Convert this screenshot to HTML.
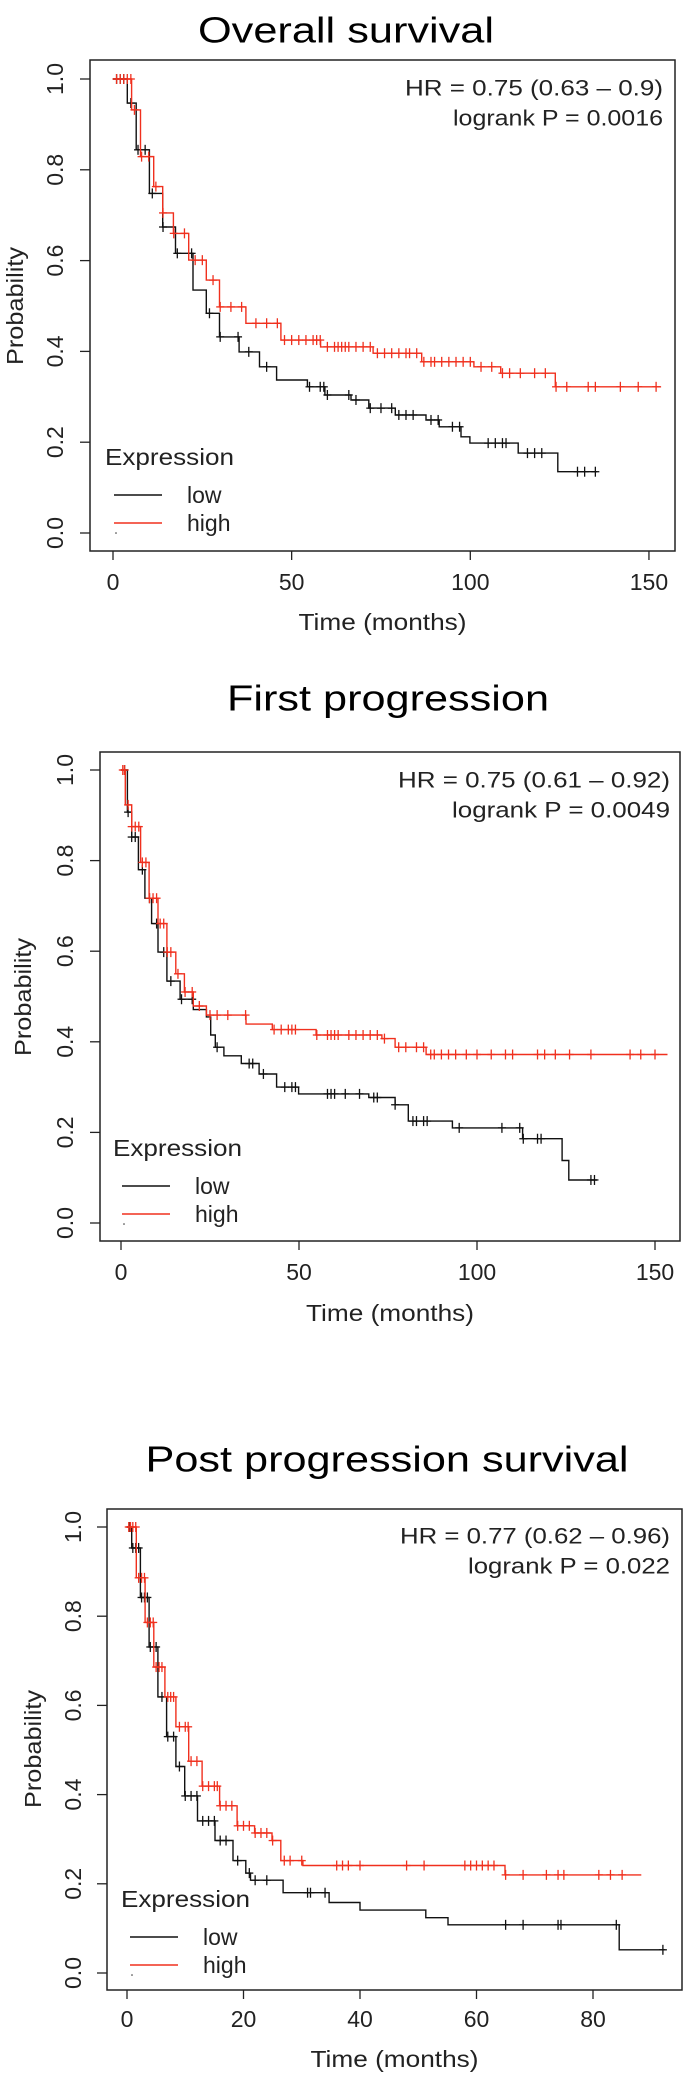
<!DOCTYPE html>
<html><head><meta charset="utf-8"><style>
html,body{margin:0;padding:0;background:#fff;}
svg{display:block;font-family:"Liberation Sans",Arial,sans-serif;}
</style></head><body>
<svg id="chart" width="685" height="2074" viewBox="0 0 685 2074" xmlns="http://www.w3.org/2000/svg"></svg>
<script>
// ---- Panel 1: Overall survival ----
const osLowT  = [0,4,6.5,10.2,13.9,17.5,22.4,26.1,29.8,35.3,41,45.8,54.4,59.3,66.6,71.6,79,87.6,91.3,97.4,99.9,113.4,124.5,135.5];
const osLowS  = [1,0.947,0.844,0.748,0.674,0.616,0.535,0.484,0.432,0.399,0.366,0.337,0.322,0.304,0.293,0.275,0.26,0.249,0.234,0.212,0.198,0.176,0.135,0.135];
const osHighT = [0,5.2,7.7,11.4,13.9,16.9,21.2,26.1,29.8,37.2,47,58.1,72.8,86.4,101,108.5,123.8,153.4];
const osHighS = [1,0.932,0.829,0.763,0.705,0.66,0.601,0.557,0.498,0.462,0.425,0.41,0.396,0.377,0.366,0.352,0.322,0.322];
const osLowCens  = [1,2,3,5,7,9,11,14,18,22,27,30,35,38,43,55,58,59,60,66,68,72,75,78,80,82,84,89,91,95,97,105,107,109,110,116,118,120,130,132,135];
const osHighCens = [1,2,3,4,5,6,8,10,12,14,17,20,23,25,28,30,33,36,40,43,46,48,50,52,54,56,57,58,60,62,63,64,65,66,68,70,72,74,76,78,80,82,83,85,87,89,90,92,94,96,98,100,103,106,109,111,114,118,121,124,127,133,135,142,147,152];
// ---- Panel 2: First progression ----
const fpLowT  = [0,1.8,3,4.9,6.7,8.6,10.4,12.9,16.6,20.3,24,25.2,26.5,28.9,33.8,38.8,43.7,49.9,69.6,77,80.7,93.1,112.8,123.9,125.8,133.7];
const fpLowS  = [1,0.907,0.852,0.78,0.717,0.661,0.598,0.534,0.494,0.471,0.455,0.415,0.388,0.369,0.352,0.329,0.3,0.285,0.277,0.261,0.225,0.21,0.186,0.138,0.095,0.095];
const fpHighT = [0,1.2,3,5.5,7.9,10.4,12.9,15.4,17.8,20.3,24,35.1,42.5,54.8,73.3,77,85.7,153.5];
const fpHighS = [1,0.923,0.875,0.796,0.717,0.661,0.598,0.55,0.51,0.479,0.459,0.439,0.427,0.415,0.407,0.388,0.372,0.372];
const fpLowCens  = [1,2,3,4,6,8,10,12,14,17,20,27,36,37,40,46,48,49,58,59,60,63,67,71,72,77,82,83,85,86,95,107,112,113,117,118,132,133];
const fpHighCens = [0.5,1,2,3,4,5,6,7,8,9,10,11,12,13,14,16,18,20,22,25,27,30,35,43,45,47,48,49,55,58,59,60,61,64,66,68,70,72,74,78,80,83,85,87,88,90,92,94,97,100,104,108,110,117,119,122,126,132,143,146,150];
// ---- Panel 3: Post progression survival ----
const ppLowT  = [0,0.8,2.3,3.8,5.3,6.8,8.4,9.9,12.1,15.1,18.2,20.4,21.2,26.8,34.7,40,51.3,55.1,84.5,92.4];
const ppLowS  = [1,0.953,0.842,0.731,0.619,0.53,0.463,0.397,0.341,0.297,0.252,0.224,0.208,0.18,0.158,0.141,0.124,0.108,0.052,0.052];
const ppHighT = [0,1.6,3.1,4.6,6.5,8.4,10.6,12.9,15.9,18.9,21.9,24.9,26.4,30.2,64.9,88.3];
const ppHighS = [1,0.886,0.786,0.686,0.619,0.552,0.475,0.419,0.375,0.33,0.314,0.297,0.252,0.241,0.22,0.22];
const ppLowCens  = [0.5,1,1.5,2,2.5,3,3.5,4,5,6,7,8,9,10,11,12,13,14,15,16,17,19,21,22,24,31,31.5,34,65,68,74,74.5,84,92];
const ppHighCens = [0.3,0.6,1,1.5,2,2.5,3,3.5,4,4.5,5,5.5,6,7,7.5,8,9,10,10.5,11,12,13,14,15,15.5,16,17,18,19,20,21,22,23,24,25,27,28,30,36,37,38,40,48,51,58,59,60,61,62,63,65,68,72,74,75,81,83,85];
// ticks
const yTickVals = [0,0.2,0.4,0.6,0.8,1.0];
const yTickLabels = ["0.0","0.2","0.4","0.6","0.8","1.0"];
const xTicks150 = [0,50,100,150];
const xTicks80 = [0,20,40,60,80];

const NS="http://www.w3.org/2000/svg";
const svg=document.getElementById('chart');
const RED="#f0301e";
function mk(tag,attrs,parent){const e=document.createElementNS(NS,tag);for(const k in attrs)e.setAttribute(k,attrs[k]);(parent||svg).appendChild(e);return e;}
function txt(s,attrs,parent){const e=mk('text',attrs,parent);e.textContent=s;return e;}

const panels=[
 {key:'overall-survival',title:'Overall survival',tx:346,ty:30,tw:296,box:[90,60,675,551],x0:113,xs:3.573,y0:533,ys:454,
  xt:xTicks150,xl:582,xlab:622,ytx:55,ylx:15,yly:306,hr:'HR = 0.75 (0.63 \u2013 0.9)',p:'logrank P = 0.0016',hrY:88,hrX:663,hrW:258,pW:210,
  legX:105,legY:457,lowT:osLowT,lowS:osLowS,highT:osHighT,highS:osHighS,lowC:osLowCens,highC:osHighCens},
 {key:'first-progression',title:'First progression',tx:388,ty:698,tw:322,box:[100,752,680,1241],x0:121,xs:3.56,y0:1223,ys:453,
  xt:xTicks150,xl:1272,xlab:1313,ytx:65,ylx:23,yly:997,hr:'HR = 0.75 (0.61 \u2013 0.92)',p:'logrank P = 0.0049',hrY:780,hrX:670,hrW:272,pW:218,
  legX:113,legY:1148,lowT:fpLowT,lowS:fpLowS,highT:fpHighT,highS:fpHighS,lowC:fpLowCens,highC:fpHighCens},
 {key:'post-progression-survival',title:'Post progression survival',tx:387,ty:1459,tw:483,box:[107,1509,682,1990],x0:127,xs:5.825,y0:1973,ys:446,
  xt:xTicks80,xl:2019,xlab:2059,ytx:73,ylx:33,yly:1749,hr:'HR = 0.77 (0.62 \u2013 0.96)',p:'logrank P = 0.022',hrY:1536,hrX:670,hrW:270,pW:202,
  legX:121,legY:1899,lowT:ppLowT,lowS:ppLowS,highT:ppHighT,highS:ppHighS,lowC:ppLowCens,highC:ppHighCens}
];

function stepAt(T,S,t){let s=S[0];for(let i=0;i<T.length;i++){if(T[i]<=t)s=S[i];else break;}return s;}

panels.forEach(P=>{
  const g=mk('g',{});
  
  
  const X=t=>P.x0+t*P.xs, Y=s=>P.y0-s*P.ys;
  const t1=txt(P.title,{x:P.tx,y:P.ty,'text-anchor':'middle','dominant-baseline':'central','font-size':36,textLength:P.tw,lengthAdjust:'spacingAndGlyphs',fill:'#000'},g);
  
  
  const [bx1,by1,bx2,by2]=P.box;
  const b=mk('rect',{x:bx1,y:by1,width:bx2-bx1,height:by2-by1,fill:'none',stroke:'#222','stroke-width':1.5},g);
  
  
  // y axis
  const ya=mk('g',{},g);
  
  
  yTickVals.forEach((v,i)=>{
    mk('line',{x1:bx1-10,x2:bx1,y1:Y(v),y2:Y(v),stroke:'#222','stroke-width':1.3},ya);
    const l=txt(yTickLabels[i],{x:0,y:0,transform:`translate(${P.ytx},${Y(v)}) rotate(-90)`,'text-anchor':'middle','dominant-baseline':'central','font-size':23,fill:'#222'},ya);
    
    
  });
  const yl=txt('Probability',{x:0,y:0,transform:`translate(${P.ylx},${P.yly}) rotate(-90)`,'text-anchor':'middle','dominant-baseline':'central','font-size':23,textLength:118,lengthAdjust:'spacingAndGlyphs',fill:'#222'},g);
  
  
  // x axis
  const xa=mk('g',{},g);
  
  
  P.xt.forEach(v=>{
    mk('line',{x1:X(v),x2:X(v),y1:by2,y2:by2+9,stroke:'#222','stroke-width':1.3},xa);
    const l=txt(String(v),{x:X(v),y:P.xl,'text-anchor':'middle','dominant-baseline':'central','font-size':23,fill:'#222'},xa);
    
    
  });
  const xl=txt('Time (months)',{x:(bx1+bx2)/2,y:P.xlab,'text-anchor':'middle','dominant-baseline':'central','font-size':23,textLength:168,lengthAdjust:'spacingAndGlyphs',fill:'#222'},g);
  
  
  // curves
  function curve(T,S,C,color,name){
    let d=`M${X(T[0])},${Y(S[0])}`;
    for(let i=1;i<T.length;i++){d+=` H${X(T[i]).toFixed(1)} V${Y(S[i]).toFixed(1)}`;}
    const p=mk('path',{d:d,fill:'none',stroke:color,'stroke-width':1.4},g);
    
    
    const cg=mk('g',{stroke:color,'stroke-width':1.3},g);
    
    
    C.forEach(t=>{const x=X(t),y=Y(stepAt(T,S,t));
      mk('line',{x1:x-4,x2:x+4,y1:y,y2:y},cg);mk('line',{x1:x,x2:x,y1:y-5,y2:y+5},cg);});
  }
  curve(P.lowT,P.lowS,P.lowC,'#111','low-expression');
  curve(P.highT,P.highS,P.highC,RED,'high-expression');
  // annotations
  const h=txt(P.hr,{x:P.hrX,y:P.hrY,'text-anchor':'end','dominant-baseline':'central','font-size':22,textLength:P.hrW,lengthAdjust:'spacingAndGlyphs',fill:'#222'},g);
  
  
  const pv=txt(P.p,{x:P.hrX,y:P.hrY+30,'text-anchor':'end','dominant-baseline':'central','font-size':22,textLength:P.pW,lengthAdjust:'spacingAndGlyphs',fill:'#222'},g);
  
  
  // legend
  const lg=mk('g',{},g);
  
  
  txt('Expression',{x:P.legX,y:P.legY,'dominant-baseline':'central','font-size':23,textLength:129,lengthAdjust:'spacingAndGlyphs',fill:'#222'},lg);
  const e1=mk('g',{},lg);
  
  
  mk('line',{x1:P.legX+9,x2:P.legX+57,y1:P.legY+38,y2:P.legY+38,stroke:'#111','stroke-width':1.4},e1);
  txt('low',{x:P.legX+82,y:P.legY+38,'dominant-baseline':'central','font-size':23,fill:'#222'},e1);
  const e2=mk('g',{},lg);
  
  
  mk('line',{x1:P.legX+9,x2:P.legX+57,y1:P.legY+66,y2:P.legY+66,stroke:RED,'stroke-width':1.4},e2);
  txt('high',{x:P.legX+82,y:P.legY+66,'dominant-baseline':'central','font-size':23,fill:'#222'},e2);
  mk('circle',{cx:P.legX+11,cy:P.legY+76,r:0.8,fill:'#333'},lg);
});
</script>
</body></html>
